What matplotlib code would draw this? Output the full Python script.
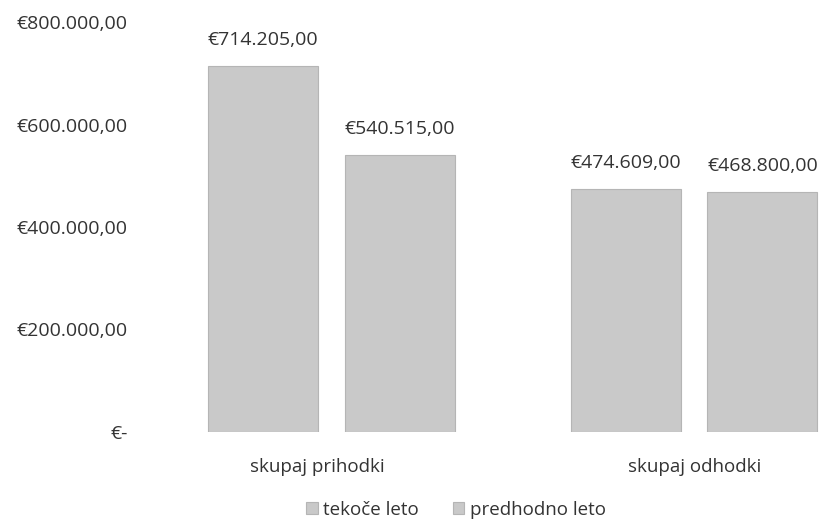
import matplotlib.pyplot as plt
import numpy as np
from matplotlib.ticker import FuncFormatter

plt.rcParams['font.family'] = ['Open Sans', 'DejaVu Sans']

categories = ['skupaj prihodki', 'skupaj odhodki']
tekoce_leto = [714205.00, 474609.00]
predhodno_leto = [540515.00, 468800.00]
series_names = ['tekoče leto', 'predhodno leto']


def eur(v, pos=None):
    if v == 0:
        return '€-'
    s = '{:,.2f}'.format(v)  # 714,205.00
    s = s.replace(',', 'X').replace('.', ',').replace('X', '.')
    return '€' + s


fig = plt.figure(figsize=(8.27, 5.22), dpi=100)
ax = fig.add_axes([150 / 827, 1 - 432 / 522, 677 / 827, 410 / 522])

x = np.arange(len(categories))
w = 0.303
off = 0.188
txt_col = '#333333'
bars1 = ax.bar(x - off, tekoce_leto, w, color='#c9c9c9', edgecolor='#b5b5b5', linewidth=0.8, label=series_names[0])
bars2 = ax.bar(x + off, predhodno_leto, w, color='#c9c9c9', edgecolor='#b5b5b5', linewidth=0.8, label=series_names[1])

for bars in (bars1, bars2):
    for b in bars:
        ax.annotate(eur(b.get_height()), (b.get_x() + b.get_width() / 2, b.get_height()),
                    xytext=(0, 12), textcoords='offset points', ha='center', va='bottom',
                    fontsize=14, color=txt_col)

ax.set_ylim(0, 800000)
ax.set_xlim(-0.5, 1.366)
ax.set_yticks([0, 200000, 400000, 600000, 800000])
ax.yaxis.set_major_formatter(FuncFormatter(eur))
ax.set_xticks([-0.04, 1.0])
ax.set_xticklabels(categories)
ax.tick_params(axis='y', length=0, pad=16, labelsize=14, labelcolor=txt_col)
ax.tick_params(axis='x', length=0, pad=19, labelsize=13.5, labelcolor=txt_col)
for s in ax.spines.values():
    s.set_visible(False)

fig.legend(loc='center', bbox_to_anchor=(456 / 827, 1 - 510 / 522), ncol=2, frameon=False,
           fontsize=13.5, labelcolor=txt_col, handlelength=0.6, handleheight=0.6,
           handletextpad=0.3, columnspacing=1.8)

fig.savefig('out.png', dpi=100)
